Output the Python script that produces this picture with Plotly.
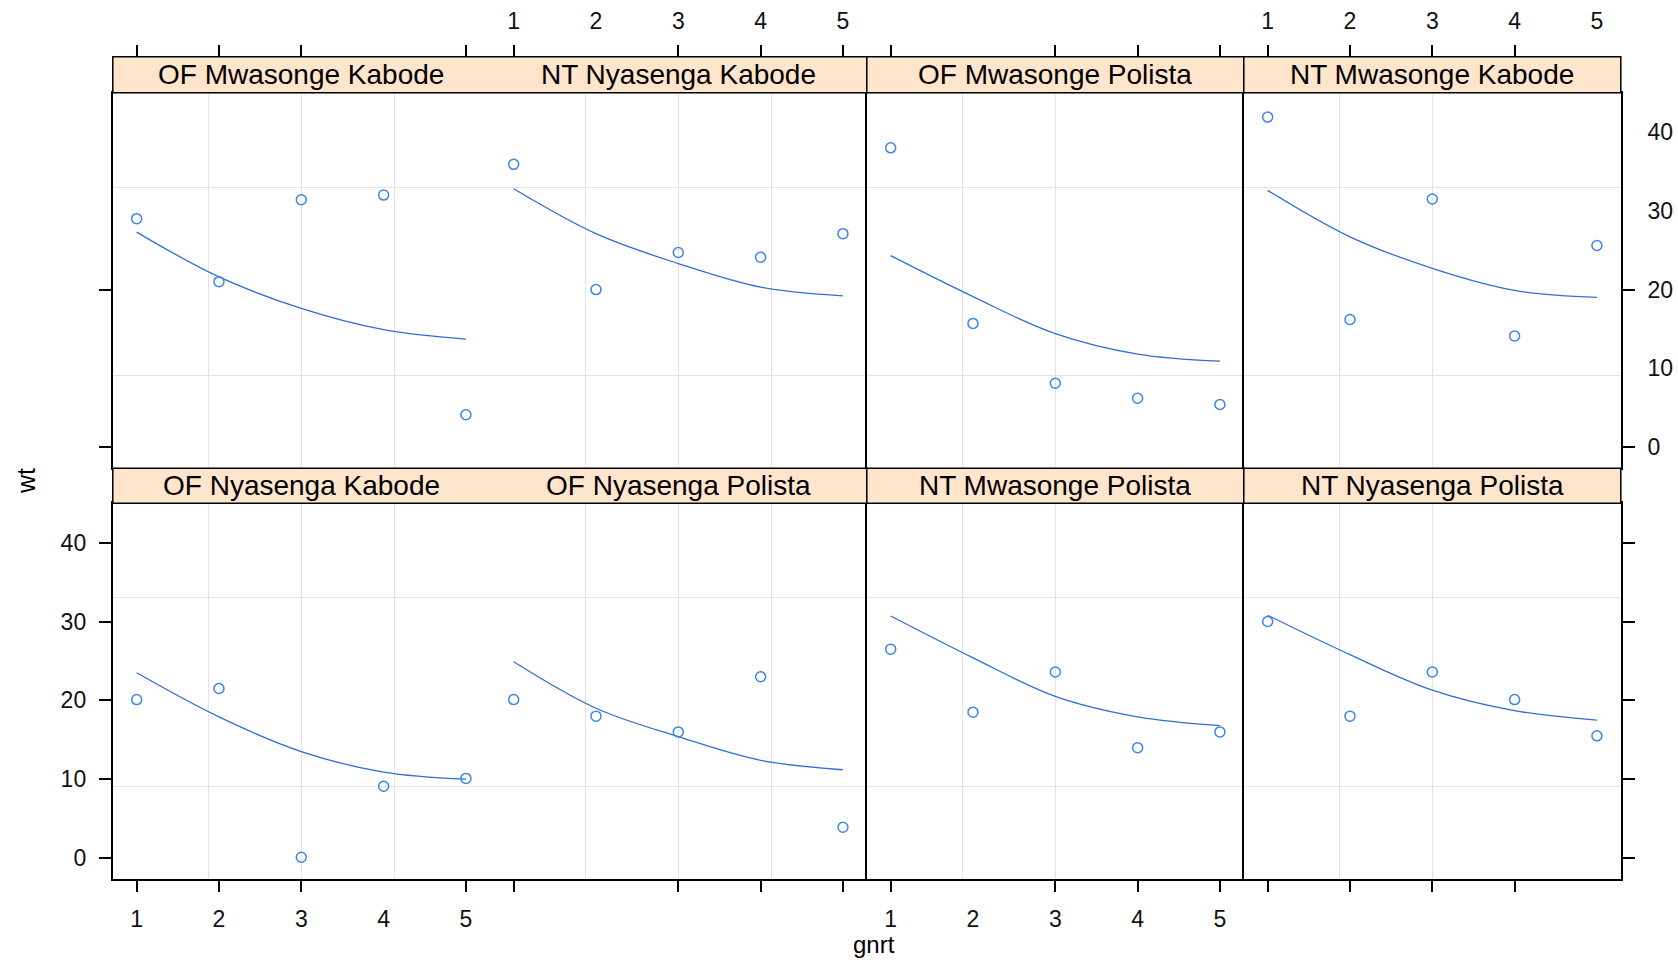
import plotly.graph_objects as go

# ---------------- data ----------------
gnrt = [1, 2, 3, 4, 5]

panel_names = [
    "OF Mwasonge Kabode", "NT Nyasenga Kabode", "OF Mwasonge Polista", "NT Mwasonge Kabode",
    "OF Nyasenga Kabode", "OF Nyasenga Polista", "NT Mwasonge Polista", "NT Nyasenga Polista",
]

wt_of_mwasonge_kabode = [29.0, 21.0, 31.4, 32.0, 4.1]
wt_nt_nyasenga_kabode = [35.9, 20.0, 24.7, 24.1, 27.1]
wt_of_mwasonge_polista = [38.0, 15.7, 8.1, 6.2, 5.4]
wt_nt_mwasonge_kabode = [41.9, 16.2, 31.5, 14.1, 25.6]
wt_of_nyasenga_kabode = [20.1, 21.5, 0.1, 9.1, 10.1]
wt_of_nyasenga_polista = [20.1, 18.0, 16.0, 23.0, 3.9]
wt_nt_mwasonge_polista = [26.5, 18.5, 23.6, 14.0, 16.0]
wt_nt_nyasenga_polista = [30.0, 18.0, 23.6, 20.1, 15.5]

fit_of_mwasonge_kabode = [27.3, 21.6, 17.6, 14.9, 13.7]
fit_nt_nyasenga_kabode = [32.8, 27.1, 23.3, 20.3, 19.2]
fit_of_mwasonge_polista = [24.3, 19.1, 14.4, 11.8, 10.9]
fit_nt_mwasonge_kabode = [32.6, 26.7, 22.7, 19.9, 19.0]
fit_of_nyasenga_kabode = [23.5, 17.9, 13.5, 10.9, 10.0]
fit_of_nyasenga_polista = [24.9, 19.0, 15.4, 12.4, 11.2]
fit_nt_mwasonge_polista = [30.7, 25.4, 20.5, 17.9, 16.8]
fit_nt_nyasenga_polista = [30.8, 25.8, 21.3, 18.7, 17.5]

wt_ticks = [0, 10, 20, 30, 40]
gnrt_labels = ["1", "2", "3", "4", "5"]

observed = [wt_of_mwasonge_kabode, wt_nt_nyasenga_kabode, wt_of_mwasonge_polista, wt_nt_mwasonge_kabode,
            wt_of_nyasenga_kabode, wt_of_nyasenga_polista, wt_nt_mwasonge_polista, wt_nt_nyasenga_polista]
fitted = [fit_of_mwasonge_kabode, fit_nt_nyasenga_kabode, fit_of_mwasonge_polista, fit_nt_mwasonge_kabode,
          fit_of_nyasenga_kabode, fit_of_nyasenga_polista, fit_nt_mwasonge_polista, fit_nt_nyasenga_polista]

# ---------------- layout constants ----------------
W, H = 1678, 979
COL_EDGES = [112.8, 489.8, 866.8, 1243.8, 1620.8]
ROWS = [(56.7, 92.7, 468.3), (468.3, 503.3, 879.3)]  # strip top, panel top, panel bottom (px)
X_RANGE = [0.71, 5.29]
Y_RANGE = [-2.7, 45.0]
GRID_Y = [9.1, 33.0]
GRID_X = [[1.87, 3.0, 4.13], [1.87, 3.0, 4.13], [1.87, 3.0], [1.87, 3.0]]
X_TICKS = [[1, 2, 3, 5], [1, 3, 4, 5], [1, 3, 4, 5], [1, 2, 3, 4]]
Y_TICKS = [[0, 20], [0, 10, 20, 30, 40]]
FONT = "Liberation Sans, Arial, sans-serif"
BLUE_PT = "#3d85e6"
BLUE_LN = "#2f6fd0"
STRIP_BG = "#ffe5cc"
TICKLEN = 12
LABEL_LEN_X = 19
LABEL_LEN_Y = 21
TICKFONT = dict(family=FONT, size=23, color="#111111")


def fx(px):
    return px / W


def fy(py):
    return 1 - py / H


def sfx(n):
    return "" if n == 1 else str(n)


fig = go.Figure()
layout = {}
shapes = []
annotations = []
next_id = [9]


def new_id():
    k = next_id[0]
    next_id[0] += 1
    return k


def add_x_overlay(n, side, tickvals, labels=None, visible=True, free_pos=None):
    k = new_id()
    ax = dict(overlaying="x" + sfx(n), side=side, range=X_RANGE, tickmode="array",
              tickvals=tickvals, ticks="outside",
              ticklen=TICKLEN if visible else LABEL_LEN_X, tickwidth=1.5,
              tickcolor="black" if visible else "rgba(0,0,0,0)",
              showticklabels=labels is not None, showgrid=False, zeroline=False,
              showline=False, fixedrange=True, tickfont=TICKFONT)
    if labels is not None:
        ax["ticktext"] = labels
    if free_pos is not None:
        ax.update(anchor="free", position=free_pos)
    else:
        ax.update(anchor="y" + sfx(n))
    layout["xaxis%d" % k] = ax
    fig.add_trace(go.Scatter(x=[None], y=[None], xaxis="x%d" % k, yaxis="y" + sfx(n),
                             showlegend=False, hoverinfo="skip"))


def add_y_overlay(n, side, tickvals, labels=None, visible=True):
    k = new_id()
    ax = dict(overlaying="y" + sfx(n), side=side, anchor="x" + sfx(n), range=Y_RANGE,
              tickmode="array", tickvals=tickvals, ticks="outside",
              ticklen=TICKLEN + 1 if visible else LABEL_LEN_Y, tickwidth=1.5,
              tickcolor="black" if visible else "rgba(0,0,0,0)",
              showticklabels=labels is not None, showgrid=False, zeroline=False,
              showline=False, fixedrange=True, tickfont=TICKFONT)
    if labels is not None:
        ax["ticktext"] = labels
    layout["yaxis%d" % k] = ax
    fig.add_trace(go.Scatter(x=[None], y=[None], xaxis="x" + sfx(n), yaxis="y%d" % k,
                             showlegend=False, hoverinfo="skip"))


# ---------------- panels ----------------
for i in range(8):
    r, c = divmod(i, 4)
    n = i + 1
    strip_top, ptop, pbot = ROWS[r]
    xd = [fx(COL_EDGES[c]), fx(COL_EDGES[c + 1])]
    yd = [fy(pbot), fy(ptop)]

    fig.add_trace(go.Scatter(x=gnrt, y=fitted[i], mode="lines",
                             line=dict(color=BLUE_LN, width=1.3, shape="spline", smoothing=1.0),
                             xaxis="x" + sfx(n), yaxis="y" + sfx(n), showlegend=False, hoverinfo="skip"))
    fig.add_trace(go.Scatter(x=gnrt, y=observed[i], mode="markers",
                             marker=dict(symbol="circle-open", size=10, color=BLUE_PT,
                                         line=dict(width=1.5, color=BLUE_PT)),
                             xaxis="x" + sfx(n), yaxis="y" + sfx(n), showlegend=False))

    layout["xaxis" + sfx(n)] = dict(domain=xd, range=X_RANGE, anchor="y" + sfx(n),
                                    tickmode="array", tickvals=GRID_X[c], ticks="",
                                    showticklabels=False, showgrid=True, gridcolor="#e4e4e4",
                                    gridwidth=1, zeroline=False, showline=True, mirror=True,
                                    linecolor="black", linewidth=1.5, fixedrange=True)
    yax = dict(domain=yd, range=Y_RANGE, anchor="x" + sfx(n), tickmode="array",
               tickvals=GRID_Y, ticks="", showticklabels=False, showgrid=True,
               gridcolor="#e4e4e4", gridwidth=1, zeroline=False, linecolor="black",
               linewidth=1.5, fixedrange=True)
    if c == 1:
        yax.update(showline=False)
    elif c == 3:
        yax.update(showline=True, mirror=True)
    else:
        yax.update(showline=True, mirror=False)
    layout["yaxis" + sfx(n)] = yax

    # x ticks / labels
    if r == 0:
        add_x_overlay(n, "top", X_TICKS[c], free_pos=fy(strip_top))
        if c in (1, 3):
            add_x_overlay(n, "top", gnrt, labels=gnrt_labels, visible=False, free_pos=fy(strip_top))
    else:
        add_x_overlay(n, "bottom", X_TICKS[c])
        if c in (0, 2):
            add_x_overlay(n, "bottom", gnrt, labels=gnrt_labels, visible=False)

    # y ticks / labels
    if c == 0:
        add_y_overlay(n, "left", Y_TICKS[r])
        if r == 1:
            add_y_overlay(n, "left", wt_ticks, labels=[str(v) for v in wt_ticks], visible=False)
    if c == 3:
        add_y_overlay(n, "right", Y_TICKS[r])
        if r == 0:
            add_y_overlay(n, "right", wt_ticks, labels=[str(v) for v in wt_ticks], visible=False)

    # strip label
    annotations.append(dict(text=panel_names[i], xref="paper", yref="paper",
                            x=(xd[0] + xd[1]) / 2, y=(fy(strip_top) + fy(ptop)) / 2,
                            xanchor="center", yanchor="middle", showarrow=False,
                            font=dict(family=FONT, size=28, color="black")))

# strips: columns 1+2 share one strip box (no separator in the reference)
for strip_top, ptop, pbot in ROWS:
    for x0, x1 in [(COL_EDGES[0], COL_EDGES[2]), (COL_EDGES[2], COL_EDGES[3]), (COL_EDGES[3], COL_EDGES[4])]:
        shapes.append(dict(type="rect", xref="paper", yref="paper",
                           x0=fx(x0), x1=fx(x1), y0=fy(ptop), y1=fy(strip_top),
                           fillcolor=STRIP_BG, line=dict(color="black", width=1.5), layer="above"))

# axis titles
annotations.append(dict(text="wt", xref="paper", yref="paper", x=fx(26), y=fy(481),
                        textangle=-90, showarrow=False, xanchor="center", yanchor="middle",
                        font=dict(family=FONT, size=25, color="black")))
annotations.append(dict(text="gnrt", xref="paper", yref="paper", x=fx(874), y=fy(944),
                        showarrow=False, xanchor="center", yanchor="middle",
                        font=dict(family=FONT, size=24, color="black")))

fig.update_layout(**layout)
fig.update_layout(width=W, height=H, autosize=False,
                  margin=dict(l=0, r=0, t=0, b=0),
                  paper_bgcolor="white", plot_bgcolor="white",
                  shapes=shapes, annotations=annotations, showlegend=False,
                  font=dict(family=FONT))

fig.write_html("out.html", config={"displayModeBar": False},
               post_script="document.body.style.margin='0';document.body.style.overflow='hidden';")
